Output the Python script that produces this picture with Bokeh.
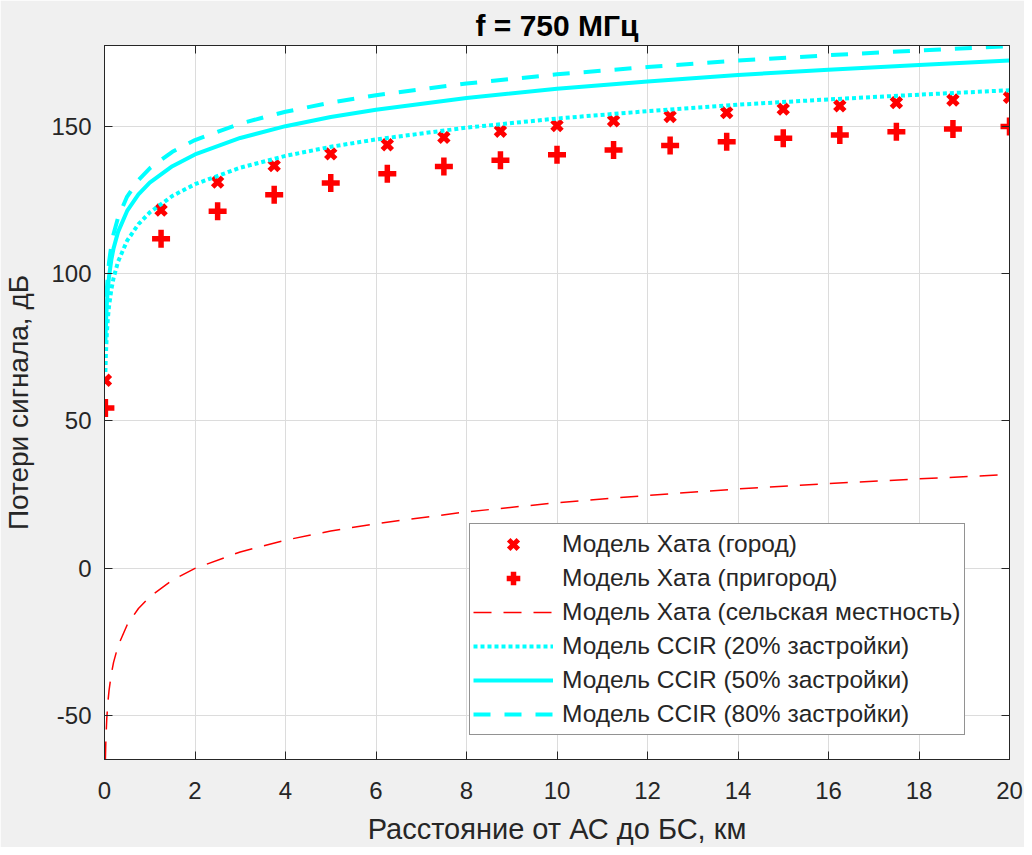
from bokeh.plotting import figure
from bokeh.models import Range1d, LinearAxis, FixedTicker, Legend, LegendItem
from bokeh.embed import file_html
from bokeh.resources import INLINE

# ---- data ----
dist_markers = [0.02, 1.25, 2.5, 3.75, 5.0, 6.25, 7.5, 8.75, 10.0, 11.25,
                12.5, 13.75, 15.0, 16.25, 17.5, 18.75, 20.0]
hata_urban = [63.8, 121.6, 131.1, 136.7, 140.7, 143.8, 146.3, 148.4, 150.3,
              151.9, 153.4, 154.7, 155.9, 157.0, 158.1, 159.0, 159.9]
hata_suburban = [54.4, 111.9, 121.2, 126.8, 130.8, 133.9, 136.4, 138.5, 140.4,
                 142.0, 143.5, 144.8, 146.0, 147.1, 148.2, 149.1, 150.0]

dist_curve = [0.02, 0.03, 0.05, 0.075, 0.1, 0.15, 0.2, 0.3, 0.5, 0.75, 1.0,
              1.5, 2.0, 3.0, 4.0, 5.0, 6.0, 8.0, 10.0, 12.0, 14.0, 16.0, 18.0, 20.0]
hata_rural = [-65.0, -58.5, -51.2, -45.6, -41.6, -36.0, -32.0, -26.4, -19.3,
              -13.7, -9.7, -4.1, -0.1, 5.5, 9.5, 12.6, 15.1, 19.1, 22.2, 24.7,
              26.9, 28.7, 30.3, 31.8]
ccir_20 = [66.6, 72.2, 79.3, 84.9, 88.9, 94.5, 98.5, 104.1, 111.2, 116.8,
           120.8, 126.4, 130.4, 136.0, 140.0, 143.1, 145.6, 149.6, 152.7,
           155.2, 157.4, 159.2, 160.8, 162.3]
ccir_50 = [76.7, 82.3, 89.4, 95.0, 99.0, 104.6, 108.6, 114.2, 121.3, 126.9,
           130.9, 136.5, 140.5, 146.1, 150.1, 153.2, 155.7, 159.7, 162.8,
           165.3, 167.5, 169.3, 170.9, 172.4]
ccir_80 = [81.6, 87.2, 94.3, 99.9, 103.9, 109.5, 113.5, 119.1, 126.2, 131.8,
           135.8, 141.4, 145.4, 151.0, 155.0, 158.1, 160.6, 164.6, 167.7,
           170.2, 172.4, 174.2, 175.8, 177.3]

x_ticks = [0, 2, 4, 6, 8, 10, 12, 14, 16, 18, 20]
y_ticks = [-50, 0, 50, 100, 150]

labels = ["Модель Хата (город)", "Модель Хата (пригород)",
          "Модель Хата (сельская местность)", "Модель CCIR (20% застройки)",
          "Модель CCIR (50% застройки)", "Модель CCIR (80% застройки)"]

FONT = "Liberation Sans"
AX = "#262626"

p = figure(width=1024, height=847, output_backend="svg", toolbar_location=None,
           x_range=Range1d(0, 20), y_range=Range1d(-65, 177.5),
           min_border_left=103, min_border_right=15, min_border_top=45,
           min_border_bottom=88, background_fill_color="white",
           border_fill_color="#f0f0f0", outline_line_color=AX,
           outline_line_width=1)

p.title.text = "f = 750 МГц"
p.title.align = "center"
p.title.text_font = FONT
p.title.text_font_size = "30px"
p.title.text_font_style = "bold"
p.title.text_color = "black"
p.title.standoff = 7

p.xaxis.ticker = FixedTicker(ticks=x_ticks)
p.yaxis.ticker = FixedTicker(ticks=y_ticks)
p.yaxis.major_label_overrides = {-50: "-50"}
p.xaxis.axis_label = "Расстояние от АС до БС, км"
p.yaxis.axis_label = "Потери сигнала, дБ"
for ax in (p.xaxis[0], p.yaxis[0]):
    ax.axis_line_color = AX
    ax.major_tick_line_color = AX
    ax.major_tick_in = 8
    ax.major_tick_out = 0
    ax.minor_tick_line_color = None
    ax.major_label_text_font = FONT
    ax.major_label_text_font_size = "24px"
    ax.major_label_text_color = AX
    ax.axis_label_text_font = FONT
    ax.axis_label_text_font_style = "normal"
    ax.axis_label_text_color = AX
p.xaxis.axis_label_text_font_size = "29px"
p.yaxis.axis_label_text_font_size = "28px"
p.xaxis.major_label_standoff = 22
p.yaxis.major_label_standoff = 13
p.xaxis.axis_label_standoff = 11
p.yaxis.axis_label_standoff = 14

for side, tick in (("right", y_ticks), ("above", x_ticks)):
    ax = LinearAxis(ticker=FixedTicker(ticks=tick), axis_line_color=AX,
                    major_tick_line_color=AX, major_tick_in=8, major_tick_out=0,
                    minor_tick_line_color=None, major_label_text_font_size="1px",
                    major_label_text_color=None, major_label_standoff=0)
    p.add_layout(ax, side)

p.grid.grid_line_color = "#dcdcdc"
p.grid.grid_line_width = 1
p.xgrid.ticker = FixedTicker(ticks=x_ticks)
p.ygrid.ticker = FixedTicker(ticks=y_ticks)

RED = "#ff0000"
CYAN = "#00ffff"
r1 = p.scatter(dist_markers, hata_urban, marker="x", size=14, line_color=RED,
               line_width=5)
r2 = p.scatter(dist_markers, hata_suburban, marker="cross", size=18,
               line_color=RED, line_width=5.5)
r3 = p.line(dist_curve, hata_rural, line_color=RED, line_width=1.5,
            line_dash="18 12")
r4 = p.line(dist_curve, ccir_20, line_color=CYAN, line_width=4,
            line_dash="4 3")
r5 = p.line(dist_curve, ccir_50, line_color=CYAN, line_width=4)
r6 = p.line(dist_curve, ccir_80, line_color=CYAN, line_width=4,
            line_dash="17 14")

items = [LegendItem(label=l, renderers=[r]) for l, r in
         zip(labels, [r1, r2, r3, r4, r5, r6])]
legend = Legend(items=items, location=(365, 24), glyph_width=80,
                glyph_height=34, label_height=34, spacing=0, padding=3,
                margin=0, label_standoff=9, label_text_font=FONT,
                label_text_font_size="24.5px", label_text_color=AX,
                border_line_color=AX, border_line_width=1,
                background_fill_color="white", background_fill_alpha=1)
p.add_layout(legend)

open("out.html", "w").write(file_html(p, INLINE))
